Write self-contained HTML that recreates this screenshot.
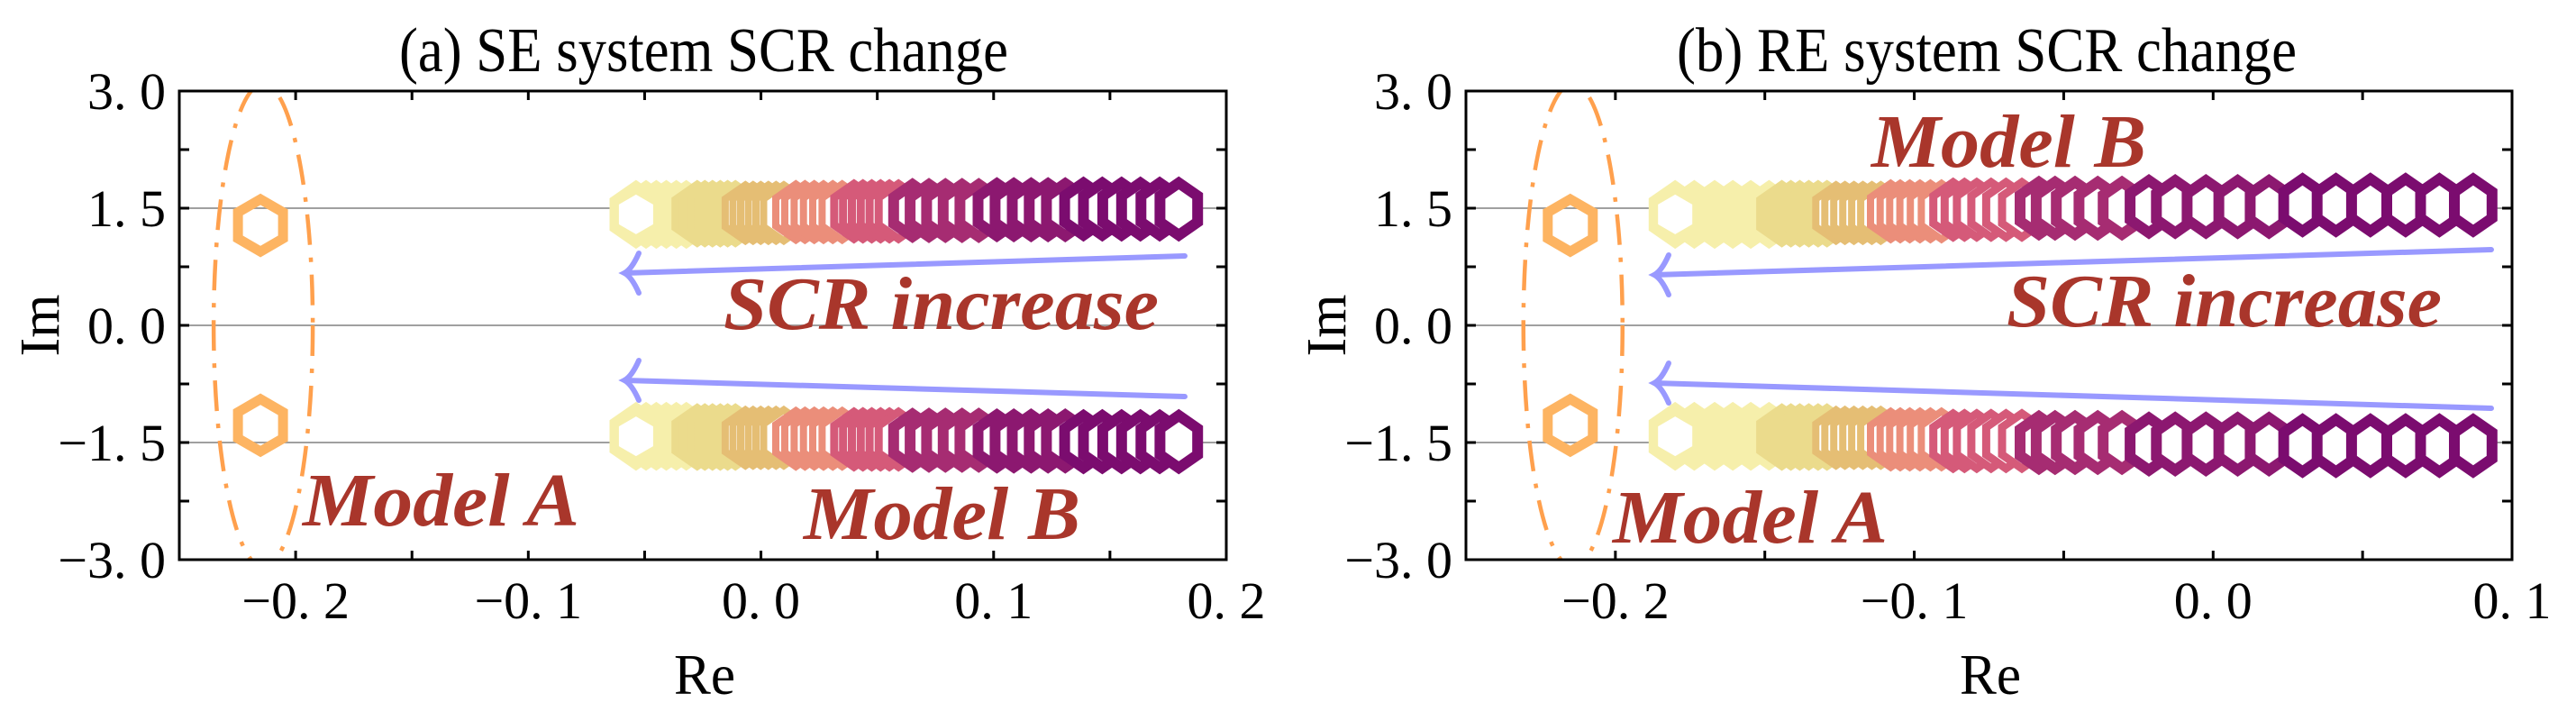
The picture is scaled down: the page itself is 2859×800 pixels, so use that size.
<!DOCTYPE html>
<html><head><meta charset="utf-8"><style>
html,body{margin:0;padding:0;background:#fff;}
svg{display:block;font-family:"Liberation Serif",serif;}
</style></head><body>
<svg id="chart" width="2859" height="800" viewBox="0 0 2859 800" xmlns="http://www.w3.org/2000/svg"></svg>
<script>
// ---- data ----
const groupColors = ["#f6efab","#ebdb8c","#e5be74","#eb8e7a","#d55a79","#a62c72","#8c1870","#7b0c6f"];
const groupOf = [0,0,0,0,0,0,1,1,1,1,1,1,2,2,2,2,2,2,3,3,3,3,3,3,4,4,4,4,4,4,5,5,5,5,5,6,6,6,6,6,7,7,7,7,7,7];
const reSE = [-0.0537,-0.0494,-0.0450,-0.0407,-0.0364,-0.0321,-0.0274,-0.0241,-0.0208,-0.0175,-0.0143,-0.0110,-0.0067,-0.0034,-0.0001,0.0032,0.0065,0.0098,0.0150,0.0189,0.0229,0.0269,0.0309,0.0349,0.0400,0.0438,0.0476,0.0514,0.0552,0.0591,0.0651,0.0722,0.0793,0.0864,0.0936,0.1014,0.1087,0.1161,0.1234,0.1308,0.1386,0.1467,0.1550,0.1631,0.1714,0.1796];
const imSE = [1.42,1.42,1.42,1.42,1.42,1.42,1.43,1.43,1.43,1.43,1.43,1.43,1.44,1.44,1.44,1.44,1.44,1.44,1.45,1.45,1.45,1.45,1.45,1.45,1.46,1.46,1.46,1.46,1.46,1.46,1.47,1.47,1.47,1.47,1.47,1.48,1.48,1.48,1.48,1.48,1.49,1.49,1.49,1.49,1.49,1.49];
const reRE = [-0.1800,-0.1736,-0.1668,-0.1607,-0.1547,-0.1486,-0.1443,-0.1413,-0.1383,-0.1353,-0.1322,-0.1292,-0.1262,-0.1232,-0.1202,-0.1172,-0.1142,-0.1112,-0.1079,-0.1047,-0.1015,-0.0981,-0.0946,-0.0909,-0.0870,-0.0832,-0.0791,-0.0743,-0.0693,-0.0640,-0.0583,-0.0529,-0.0462,-0.0386,-0.0305,-0.0215,-0.0127,-0.0024,0.0082,0.0187,0.0299,0.0411,0.0526,0.0644,0.0757,0.0870];
const imRE = [1.42,1.42,1.42,1.42,1.42,1.42,1.43,1.43,1.43,1.43,1.43,1.43,1.44,1.44,1.44,1.44,1.44,1.44,1.46,1.46,1.46,1.46,1.46,1.46,1.48,1.48,1.48,1.48,1.48,1.48,1.50,1.50,1.50,1.50,1.50,1.52,1.52,1.52,1.52,1.52,1.54,1.54,1.54,1.54,1.54,1.54];
const modelARe = [-0.2151, -0.2151];
const modelAIm = [1.28, 1.28];
const yTicks = [3.0, 1.5, 0.0, -1.5, -3.0];
const yTickLabels = ["3. 0","1. 5","0. 0","\u22121. 5","\u22123. 0"];
const xTicksSE = [-0.2,-0.1,0.0,0.1,0.2];
const xTickLabelsSE = ["\u22120. 2","\u22120. 1","0. 0","0. 1","0. 2"];
const xTicksRE = [-0.2,-0.1,0.0,0.1];
const xTickLabelsRE = ["\u22120. 2","\u22120. 1","0. 0","0. 1"];

// ---- styles (not data) ----
const groupStroke = [30,24,8,8,9,12,12,12];
const NS = "http://www.w3.org/2000/svg";
const svg = document.getElementById("chart");
function mk(tag, attrs, parent){
  const e = document.createElementNS(NS, tag);
  for (const k in attrs) e.setAttribute(k, attrs[k]);
  (parent||svg).appendChild(e);
  return e;
}
function hexPts(cx, cy, a, b){
  return [[cx,cy-b],[cx+a,cy-b/2],[cx+a,cy+b/2],[cx,cy+b],[cx-a,cy+b/2],[cx-a,cy-b/2]].map(p=>p[0].toFixed(1)+","+p[1].toFixed(1)).join(" ");
}

function panel(o){
  const g = mk("g", {});
  
  
  const L=o.left, R=o.right, T=101, B=621;
  const xs = v => L + (v - o.xmin)/(o.xmax - o.xmin)*(R-L);
  const ys = v => B - (v + 3)/6*(B-T);
  const clipId = o.name+"-clip";
  const cp = mk("clipPath", {id:clipId}, g);
  mk("rect", {x:L, y:T, width:R-L, height:B-T}, cp);
  const plot = mk("g", {"clip-path":"url(#"+clipId+")"}, g);
  [1.5,0,-1.5].forEach(v=>{
    const ln = mk("line", {x1:L, x2:R, y1:ys(v), y2:ys(v), stroke:"#a0a0a0", "stroke-width":2}, plot);
    
    
  });
  const el = mk("ellipse", {cx:xs(modelARe[0])+3, cy:ys(0), rx:55, ry:268, fill:"none", stroke:"#ffa04d", "stroke-width":4.5, "stroke-dasharray":"34,14,5,14"}, plot);
  
  
  [1,-1].forEach(sg=>{
    const h = mk("polygon", {points:hexPts(xs(modelARe[0]), ys(sg*modelAIm[0]), 25, 29), fill:"none", stroke:"#fdb462", "stroke-width":11}, plot);
    
    
  });
  [1,-1].forEach(sg=>{
    o.re.forEach((r,i)=>{
      const gi = groupOf[i];
      const sw = groupStroke[gi];
      const b = 35 - sw/2;
      const a = Math.max(b*0.72, 12);
      const h = mk("polygon", {points:hexPts(xs(r), ys(sg*o.im[i]), a, b), fill:"#fff", stroke:groupColors[gi], "stroke-width":sw}, plot);
      
      
    });
    const hole = mk("polygon", {points:hexPts(xs(o.re[0]), ys(sg*o.im[0]), 19, 22), fill:"#fff"}, plot);
    
    
  });
  o.arrows.forEach(a=>{
    const ag = mk("g", {stroke:"#9999ff", "stroke-width":6, fill:"none", "stroke-linecap":"round"}, g);
    
    
    mk("line", {x1:a[0], y1:a[1], x2:a[2], y2:a[3]}, ag);
    const x=a[2], y=a[3];
    mk("path", {d:`M${x+16},${y-22} Q${x+8},${y-4} ${x},${y} Q${x+8},${y+4} ${x+16},${y+22}`}, ag);
  });
  const fr = mk("rect", {x:L, y:T, width:R-L, height:B-T, fill:"none", stroke:"#000", "stroke-width":3}, g);
  
  
  for (let v=-3; v<=3.001; v+=0.75){
    mk("line", {x1:L, x2:L+11, y1:ys(v), y2:ys(v), stroke:"#000", "stroke-width":3}, g);
    mk("line", {x1:R, x2:R-11, y1:ys(v), y2:ys(v), stroke:"#000", "stroke-width":3}, g);
  }
  for (let v=-0.2; v<=o.xmax+0.001; v+=0.05){
    mk("line", {x1:xs(v), x2:xs(v), y1:T, y2:T+10, stroke:"#000", "stroke-width":3}, g);
    mk("line", {x1:xs(v), x2:xs(v), y1:B, y2:B-10, stroke:"#000", "stroke-width":3}, g);
  }
  yTicks.forEach((v,i)=>{
    const t = mk("text", {x:o.yLabRight, y:ys(v)+20, "text-anchor":"end", "font-size":58}, g);
    t.textContent = yTickLabels[i];
    
    
  });
  o.xt.forEach((v,i)=>{
    const t = mk("text", {x:xs(v), y:686, "text-anchor":"middle", "font-size":58}, g);
    t.textContent = o.xtl[i];
    
    
  });
  const ti = mk("text", {x:o.titleX, y:79, "text-anchor":"middle", "font-size":70, textLength:o.titleW, lengthAdjust:"spacingAndGlyphs"}, g);
  ti.textContent = o.title;
  
  
  const xl = mk("text", {x:o.reX-34, y:770, "font-size":64, textLength:68, lengthAdjust:"spacingAndGlyphs"}, g);
  xl.textContent = "Re";
  
  
  const yl = mk("text", {x:0, y:0, "text-anchor":"middle", "font-size":62, transform:`translate(${L-134},361) rotate(-90)`}, g);
  yl.textContent = "Im";
  
  
  o.notes.forEach(n=>{
    const t = mk("text", {x:n[1], y:n[2], "font-size":84, "font-weight":"bold", "font-style":"italic", fill:"#a9362b", textLength:n[3], lengthAdjust:"spacingAndGlyphs"}, g);
    t.textContent = n[0];
    
    
  });
}

panel({name:"se-panel", left:199, right:1361, xmin:-0.25, xmax:0.2, re:reSE, im:imSE,
  xt:xTicksSE, xtl:xTickLabelsSE, yLabRight:184, title:"(a) SE system SCR change", titleX:781, titleW:676,
  reX:782,
  arrows:[[1315,284,693,303],[1315,440,693,422]],
  notes:[["SCR increase",803,365,483,"scr-increase-label"],["Model A",336,583,307,"model-a-label"],["Model B",892,598,307,"model-b-label"]]});
panel({name:"re-panel", left:1627, right:2788, xmin:-0.25, xmax:0.1, re:reRE, im:imRE,
  xt:xTicksRE, xtl:xTickLabelsRE, yLabRight:1612, title:"(b) RE system SCR change", titleX:2205, titleW:688,
  reX:2209,
  arrows:[[2765,277,1836,305],[2765,453,1836,425]],
  notes:[["SCR increase",2227,362,483,"scr-increase-label"],["Model A",1790,602,305,"model-a-label"],["Model B",2077,185,305,"model-b-label"]]});
</script>
</body></html>
